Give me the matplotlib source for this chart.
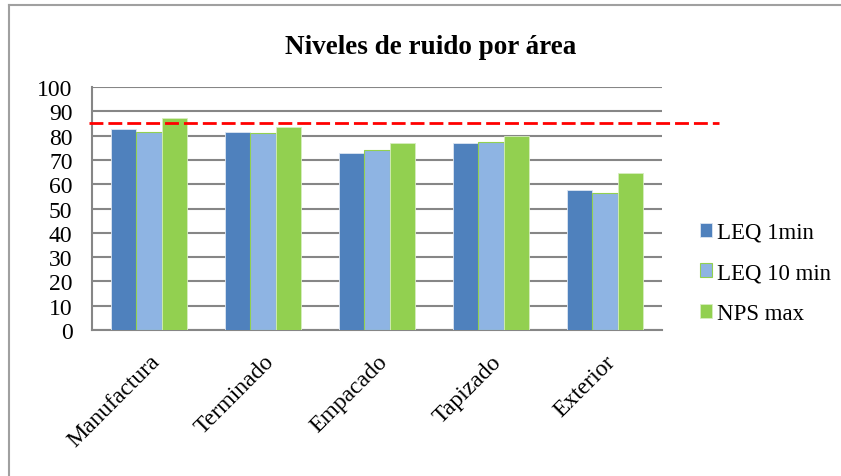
import numpy as np
import matplotlib.pyplot as plt
from matplotlib.lines import Line2D

areas = ['Manufactura', 'Terminado', 'Empacado', 'Tapizado', 'Exterior']
leq_1min = [82.7, 81.6, 72.8, 77.0, 57.6]
leq_10min = [81.3, 81.2, 74.1, 77.2, 56.4]
nps_max = [87.2, 83.5, 76.8, 80.0, 64.6]
limite = 85
yticks = list(range(0, 101, 10))

plt.rcParams['font.family'] = ['Liberation Serif', 'DejaVu Serif']

fig = plt.figure(figsize=(8.41, 4.77), dpi=100)
ax = fig.add_axes([92/841, 1 - 331/477, 570/841, 243/477])

x = np.arange(len(areas))
w = 0.22
ax.bar(x - w, leq_1min, w, color='#4F81BD', edgecolor='#DCE6F2', lw=0.6, label='LEQ 1min', zorder=3)
ax.bar(x, leq_10min, w, color='#8EB4E3', edgecolor='#92D050', lw=0.8, label='LEQ 10 min', zorder=3)
ax.bar(x + w, nps_max, w, color='#92D050', edgecolor='#D7EEC0', lw=0.6, label='NPS max', zorder=3)

ax.set_xlim(-0.5, len(areas) - 0.5)
ax.set_ylim(0, 100)
ax.set_yticks(yticks)
ax.set_xticks(x)
ax.set_xticklabels(areas, rotation=45, ha='right', rotation_mode='anchor', fontsize=17)
ax.tick_params(axis='y', labelsize=17, length=0, pad=14)
ax.tick_params(axis='x', length=0, pad=15)
ax.grid(axis='y', color='#868686', lw=1.5, zorder=0)
for s in ['top', 'right']:
    ax.spines[s].set_visible(False)
for s in ['left', 'bottom']:
    ax.spines[s].set_color('#868686')
    ax.spines[s].set_linewidth(1.5)

# red dashed limit line reaching past the plot area
ax.plot([-0.53, 5.0], [limite, limite], color='red', lw=2, ls=(0, (5, 1.8)),
        clip_on=False, zorder=4)

fig.text(431/841, 1 - 47/477, 'Niveles de ruido por área', ha='center', va='center',
         fontsize=19.5, fontweight='bold')

ax.legend(loc='center left', bbox_to_anchor=(1.03, 0.235), frameon=False,
          fontsize=16.5, handlelength=0.55, handleheight=0.55, handletextpad=0.2,
          labelspacing=0.85)

# chart frame
fig.add_artist(Line2D([9/841, 9/841], [0, 1 - 6/477], color='#A0A0A0', lw=1.5))
fig.add_artist(Line2D([9/841, 1], [1 - 6/477, 1 - 6/477], color='#A0A0A0', lw=1.5))

fig.savefig('out.png', dpi=100)
